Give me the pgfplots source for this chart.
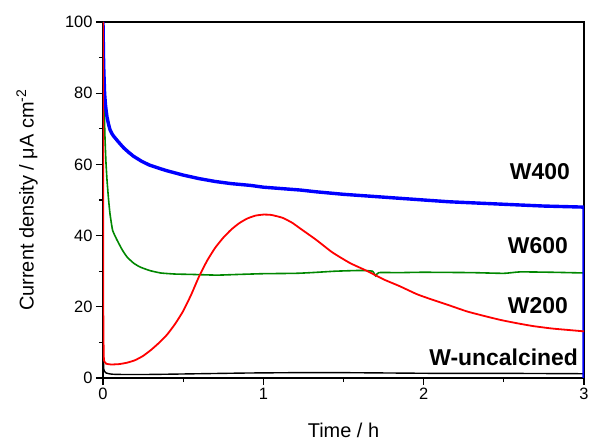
\documentclass[border=0pt]{standalone}
\usepackage{fontspec}
\setmainfont{Liberation Sans}
\usepackage{pgfplots}
\pgfplotsset{compat=1.18}
\usetikzlibrary{calc}

\definecolor{cblue}{RGB}{0,0,255}
\definecolor{cred}{RGB}{255,0,0}
\definecolor{cgreen}{RGB}{0,135,0}

\begin{document}
\begin{tikzpicture}
\begin{axis}[
  scale only axis,
  width=481bp, height=356bp,
  xmin=0, xmax=3, ymin=0, ymax=100,
  xtick={0,1,2,3}, ytick={0,20,40,60,80,100},
  minor x tick num=1, minor y tick num=1,
  tick pos=left, tick align=outside,
  major tick length=7bp, minor tick length=4bp,
  every tick/.style={black, line width=1.1bp},
  axis line style={line width=1.2bp, black},
  /pgf/number format/assume math mode=true,
  ticklabel style={font=\fontsize{16.5}{18}\selectfont},
  xlabel={Time / h},
  ylabel={Current density / μA cm\textsuperscript{-2}},
  label style={font=\fontsize{20}{22}\selectfont},
  xlabel style={at={(axis description cs:0.5,-0.146)}, anchor=center},
  ylabel style={at={(axis description cs:-0.158,0.5)}, anchor=center},
  clip=true,
]
% W-uncalcined
\addplot[black, line width=1.4bp, smooth, tension=0.3] table {
0     8.0
0.005 2.5
0.01  1.8
0.02  1.4
0.05  1.1
0.1   1.0
0.3   1.0
0.6   1.2
0.9   1.4
1.2   1.5
1.5   1.5
1.8   1.4
2.1   1.3
2.5   1.3
3.0   1.2
};
% W600
\addplot[cgreen, line width=1.6bp, smooth, tension=0.3] table {
0     100
0.004 85
0.008 75
0.012 68
0.018 61
0.025 55.6
0.035 50
0.044 46
0.06  41.5
0.087 38.8
0.12  36
0.15  34
0.19  32.3
0.23  31.2
0.29  30.2
0.36  29.5
0.45  29.2
0.55  29.1
0.71  28.9
0.85  29.1
1.0   29.3
1.2   29.4
1.3   29.6
1.45  30.0
1.6   30.2
1.68  30.0
1.70  28.7
1.72  29.6
1.85  29.6
2.0   29.7
2.3   29.6
2.5   29.4
2.6   29.8
2.8   29.7
3.0   29.5
};
% W400
\addplot[cblue, line width=3.4bp, line join=round] table {
0     100
0.004 88
0.01  80
0.015 77
0.02  75.0
0.025 73.3
0.035 71.2
0.044 69.7
0.055 68.7
0.065 68.0
0.087 66.8
0.11  65.6
0.13  64.6
0.16  63.4
0.19  62.3
0.24  60.9
0.29  59.8
0.35  58.9
0.4   58.2
0.45  57.6
0.5   57
0.6   56
0.7   55.2
0.8   54.6
0.92  54.1
1.0   53.6
1.23  52.8
1.33  52.3
1.5   51.6
1.75  50.8
2.0   50.0
2.16  49.5
2.5   48.8
2.75  48.3
3.0   48.0
3.0   0
};
% W200
\addplot[cred, line width=1.8bp, smooth, tension=0.3] table {
0     100
0.002 20
0.005 6
0.01  4.5
0.02  4.0
0.05  3.8
0.1   3.9
0.15  4.3
0.2   5.0
0.25  6.2
0.3   7.9
0.35  9.9
0.4   12.2
0.45  15.2
0.5   18.8
0.55  23.4
0.6   28.6
0.65  33.0
0.7   36.6
0.75  39.4
0.8   41.7
0.85  43.5
0.9   44.8
0.95  45.6
1.0   45.9
1.05  45.8
1.12  45
1.18  43.6
1.23  42
1.33  38.8
1.43  35.3
1.54  32.3
1.65  30
1.75  27.7
1.85  25.8
1.96  23.5
2.06  21.9
2.16  20.4
2.27  18.7
2.38  17.4
2.48  16.3
2.58  15.4
2.68  14.6
2.8   13.9
2.9   13.5
3.0   13.1
};
\begin{scope}[every node/.style={font=\bfseries\fontsize{23}{25}\selectfont, anchor=east, inner sep=0pt}]
\node at (axis cs:2.913,57.9) {W400};
\node at (axis cs:2.90,37.2) {W600};
\node at (axis cs:2.90,20.2) {W200};
\node at (axis cs:2.963,5.9) {W-uncalcined};
\end{scope}
\coordinate (sw) at (rel axis cs:0,0);
\coordinate (ne) at (rel axis cs:1,1);
\end{axis}
\pgfresetboundingbox
\path[use as bounding box] ($(sw)+(-103bp,-62bp)$) rectangle ($(ne)+(6bp,22bp)$);
\end{tikzpicture}
\end{document}
